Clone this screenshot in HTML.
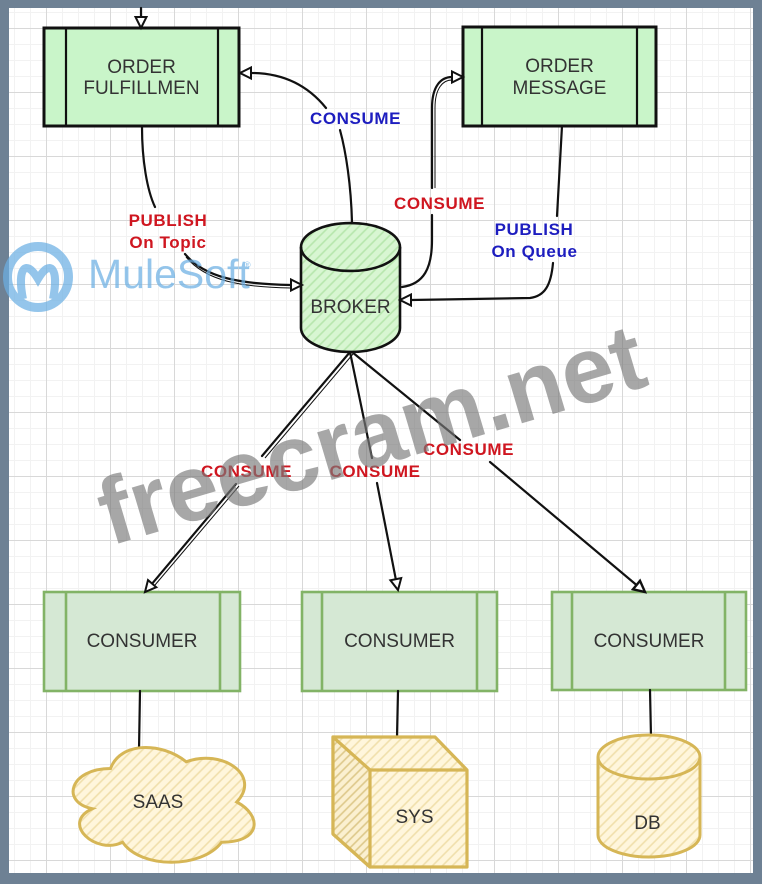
<!DOCTYPE html>
<html><head><meta charset="utf-8"><style>
html,body{margin:0;padding:0;background:#6e8194;}
svg{display:block;}
text{font-family:"Liberation Sans",Arial,sans-serif;}
.lbl{font-weight:bold;font-size:17px;letter-spacing:0.6px;text-anchor:middle;}
.red{fill:#cf1620;}
.blue{fill:#1d1dbf;}
.node{font-size:19px;fill:#333;text-anchor:middle;}
.ln{fill:none;stroke:#111;stroke-width:2.2;stroke-linecap:round;stroke-linejoin:round;}
.ah{fill:#fff;stroke:#111;stroke-width:2;stroke-linejoin:miter;}
</style></head><body>
<svg width="762" height="884" viewBox="0 0 762 884" xmlns="http://www.w3.org/2000/svg">
<defs>
  <pattern id="grid" x="46" y="28" width="64" height="64" patternUnits="userSpaceOnUse">
    <path d="M16.5,0V64M32.5,0V64M48.5,0V64M0,16.5H64M0,32.5H64M0,48.5H64" stroke="#f2f2f2" stroke-width="1"/>
    <path d="M0.5,0V64M0,0.5H64" stroke="#d8d8d8" stroke-width="1"/>
  </pattern>
  <pattern id="hg" width="7" height="7" patternUnits="userSpaceOnUse" patternTransform="rotate(45)">
    <rect width="7" height="7" fill="#d8f6d2"/>
    <line x1="1" y1="0" x2="1" y2="7" stroke="#b6e6ac" stroke-width="1.6"/>
  </pattern>
  <pattern id="hy" width="7" height="7" patternUnits="userSpaceOnUse" patternTransform="rotate(45)">
    <rect width="7" height="7" fill="#fff6dc"/>
    <line x1="1" y1="0" x2="1" y2="7" stroke="#f0dfab" stroke-width="1.6"/>
  </pattern>
  <pattern id="hy2" width="6" height="6" patternUnits="userSpaceOnUse" patternTransform="rotate(45)">
    <rect width="6" height="6" fill="#fbf0d0"/>
    <line x1="1" y1="0" x2="1" y2="6" stroke="#ddc88a" stroke-width="1.6"/>
  </pattern>
</defs>

<!-- frame -->
<rect x="0" y="0" width="762" height="884" fill="#6e8194"/>
<rect x="9" y="8" width="744" height="865" fill="#ffffff"/>
<rect x="9" y="8" width="744" height="865" fill="url(#grid)"/>

<!-- ORDER FULFILLMEN -->
<rect x="44" y="28" width="195" height="98" fill="#c9f5c9" stroke="#111" stroke-width="3"/>
<line x1="66" y1="28" x2="66" y2="126" stroke="#111" stroke-width="2.2"/>
<line x1="218" y1="28" x2="218" y2="126" stroke="#111" stroke-width="2.2"/>
<text class="node" x="141.5" y="73">ORDER</text>
<text class="node" x="141.5" y="94">FULFILLMEN</text>

<!-- ORDER MESSAGE -->
<rect x="463" y="27" width="193" height="99" fill="#c9f5c9" stroke="#111" stroke-width="3"/>
<line x1="482" y1="27" x2="482" y2="126" stroke="#111" stroke-width="2.2"/>
<line x1="637" y1="27" x2="637" y2="126" stroke="#111" stroke-width="2.2"/>
<text class="node" x="559.5" y="72">ORDER</text>
<text class="node" x="559.5" y="94">MESSAGE</text>

<!-- BROKER -->
<path d="M301,247 A49.5,24 0 0 1 400,247 L400,328 A49.5,24 0 0 1 301,328 Z" fill="url(#hg)" stroke="#111" stroke-width="2.6"/>
<path d="M301,247 A49.5,24 0 0 0 400,247" fill="none" stroke="#111" stroke-width="2.6"/>
<text class="node" x="350.5" y="313">BROKER</text>

<!-- CONSUMERS -->
<g fill="#d5e8d4" stroke="#82b366" stroke-width="2.6">
  <rect x="44" y="592" width="196" height="99"/>
  <line x1="66" y1="592" x2="66" y2="691"/>
  <line x1="220" y1="592" x2="220" y2="691"/>
  <rect x="302" y="592" width="195" height="99"/>
  <line x1="322" y1="592" x2="322" y2="691"/>
  <line x1="477" y1="592" x2="477" y2="691"/>
  <rect x="552" y="592" width="194" height="98"/>
  <line x1="572" y1="592" x2="572" y2="690"/>
  <line x1="725" y1="592" x2="725" y2="690"/>
</g>
<text class="node" x="142" y="647">CONSUMER</text>
<text class="node" x="399.5" y="647">CONSUMER</text>
<text class="node" x="649" y="647">CONSUMER</text>

<!-- consumer to resource lines -->
<line class="ln" x1="140" y1="691" x2="139" y2="750"/>
<line class="ln" x1="398" y1="691" x2="397" y2="737"/>
<line class="ln" x1="650" y1="690" x2="651" y2="737"/>

<!-- SAAS cloud -->
<path d="M110.5,768.5 C70.1,768.5 60,802 92.3,808.7 C60,823.4 96.4,855.6 122.6,842.2 C140.8,869 201.4,869 221.6,842.2 C262,842.2 262,815.4 236.75,802 C262,775.2 221.6,748.4 186.25,761.8 C161,741.7 120.6,741.7 110.5,768.5 Z" fill="url(#hy)" stroke="#d6b656" stroke-width="3"/>
<text class="node" x="158" y="808">SAAS</text>

<!-- SYS cube -->
<polygon points="333,737 435,737 467,770 467,867 370,867 333,834" fill="url(#hy)" stroke="#d6b656" stroke-width="3.2" stroke-linejoin="round"/>
<polygon points="333,737 370,770 370,867 333,834" fill="url(#hy2)" stroke="#d6b656" stroke-width="3.2" stroke-linejoin="round"/>
<polyline points="370,770 467,770" fill="none" stroke="#d6b656" stroke-width="3.2"/>
<text class="node" x="414.5" y="823">SYS</text>

<!-- DB cylinder -->
<path d="M598,757 A51,22 0 0 1 700,757 L700,835 A51,22 0 0 1 598,835 Z" fill="url(#hy)" stroke="#d6b656" stroke-width="3"/>
<path d="M598,757 A51,22 0 0 0 700,757" fill="none" stroke="#d6b656" stroke-width="3"/>
<text class="node" x="647.5" y="829">DB</text>

<!-- top entry arrow -->
<line class="ln" x1="141" y1="8" x2="141" y2="17"/>
<polygon class="ah" points="135.5,17 146.5,17 141,28"/>

<!-- PUBLISH On Topic: Fulfillment -> Broker -->
<path class="ln" d="M142,127 C142,160 147,190 155,207"/>
<path class="ln" d="M185,254 C205,278 240,284 291,285"/>
<path d="M186,257 C206,281 240,287 291,288" fill="none" stroke="#111" stroke-width="1"/>
<polygon class="ah" points="291,279.5 291,290.5 302,285"/>
<text class="lbl red" x="168" y="226">PUBLISH</text>
<text class="lbl red" x="168" y="248">On Topic</text>

<!-- CONSUME (blue): Broker -> Fulfillment -->
<path class="ln" d="M352,222 C351,185 346,152 340,130"/>
<path class="ln" d="M326,108 C305,82 278,73 251,73"/>
<polygon class="ah" points="251,67.5 251,78.5 240,73"/>
<text class="lbl blue" x="355.5" y="124">CONSUME</text>

<!-- CONSUME (red): Broker -> Order Message -->
<path class="ln" d="M402,287 C424,284 432,268 432,240 L432,215"/>
<path class="ln" d="M432,188 L432,108 C432,86 441,77 452,77"/>
<path d="M435,188 L435,108 C435,88 443,80 452,80" fill="none" stroke="#111" stroke-width="1"/>
<polygon class="ah" points="452,71.5 452,82.5 463,77"/>
<text class="lbl red" x="439.5" y="209">CONSUME</text>

<!-- PUBLISH On Queue: Order Message -> Broker -->
<path class="ln" d="M562,126 L557,216"/>
<path class="ln" d="M553,263 C551,285 545,296 530,298 L411,300"/>
<polygon class="ah" points="411,294.5 411,305.5 400,300"/>
<text class="lbl blue" x="534" y="235">PUBLISH</text>
<text class="lbl blue" x="534.5" y="257">On Queue</text>

<!-- Broker -> consumers -->
<path class="ln" d="M350,352 L262,456"/>
<path class="ln" d="M236,484 L152.2,583.6"/>
<path d="M353,354 L265,458 M239,486 L155,585" fill="none" stroke="#111" stroke-width="1"/>
<polygon class="ah" points="156.3,587.2 148,580.1 145,592"/>

<path class="ln" d="M350,352 L372,458"/>
<path class="ln" d="M377,483 L395.8,579.2"/>
<polygon class="ah" points="401.2,578.1 390.4,580.3 398,590"/>

<path class="ln" d="M352,352 L460,440"/>
<path class="ln" d="M490,462 L636.5,585"/>
<polygon class="ah" points="640,580.8 633,589.3 645,592" style="stroke-width:2.4"/>

<text class="lbl red" x="246.5" y="477">CONSUME</text>
<text class="lbl red" x="375" y="477">CONSUME</text>
<text class="lbl red" x="468.5" y="455">CONSUME</text>

<!-- MuleSoft watermark -->
<g opacity="0.72">
  <circle cx="38" cy="277" r="30.5" fill="none" stroke="#6cb0e4" stroke-width="9"/>
  <path d="M23,299 C17,270 25,257 38,279 C51,257 59,270 53,299" fill="none" stroke="#6cb0e4" stroke-width="8"/>
  <text x="88" y="288" font-size="41" fill="#6cb0e4">MuleSoft</text>
  <text x="244" y="268" font-size="9" fill="#6cb0e4">®</text>
</g>

<!-- freecram.net watermark -->
<text x="110" y="546" transform="rotate(-16.6 110 546)" font-size="94" font-weight="bold" fill="#7a7a7a" opacity="0.66">freecram.net</text>
</svg>
</body></html>
